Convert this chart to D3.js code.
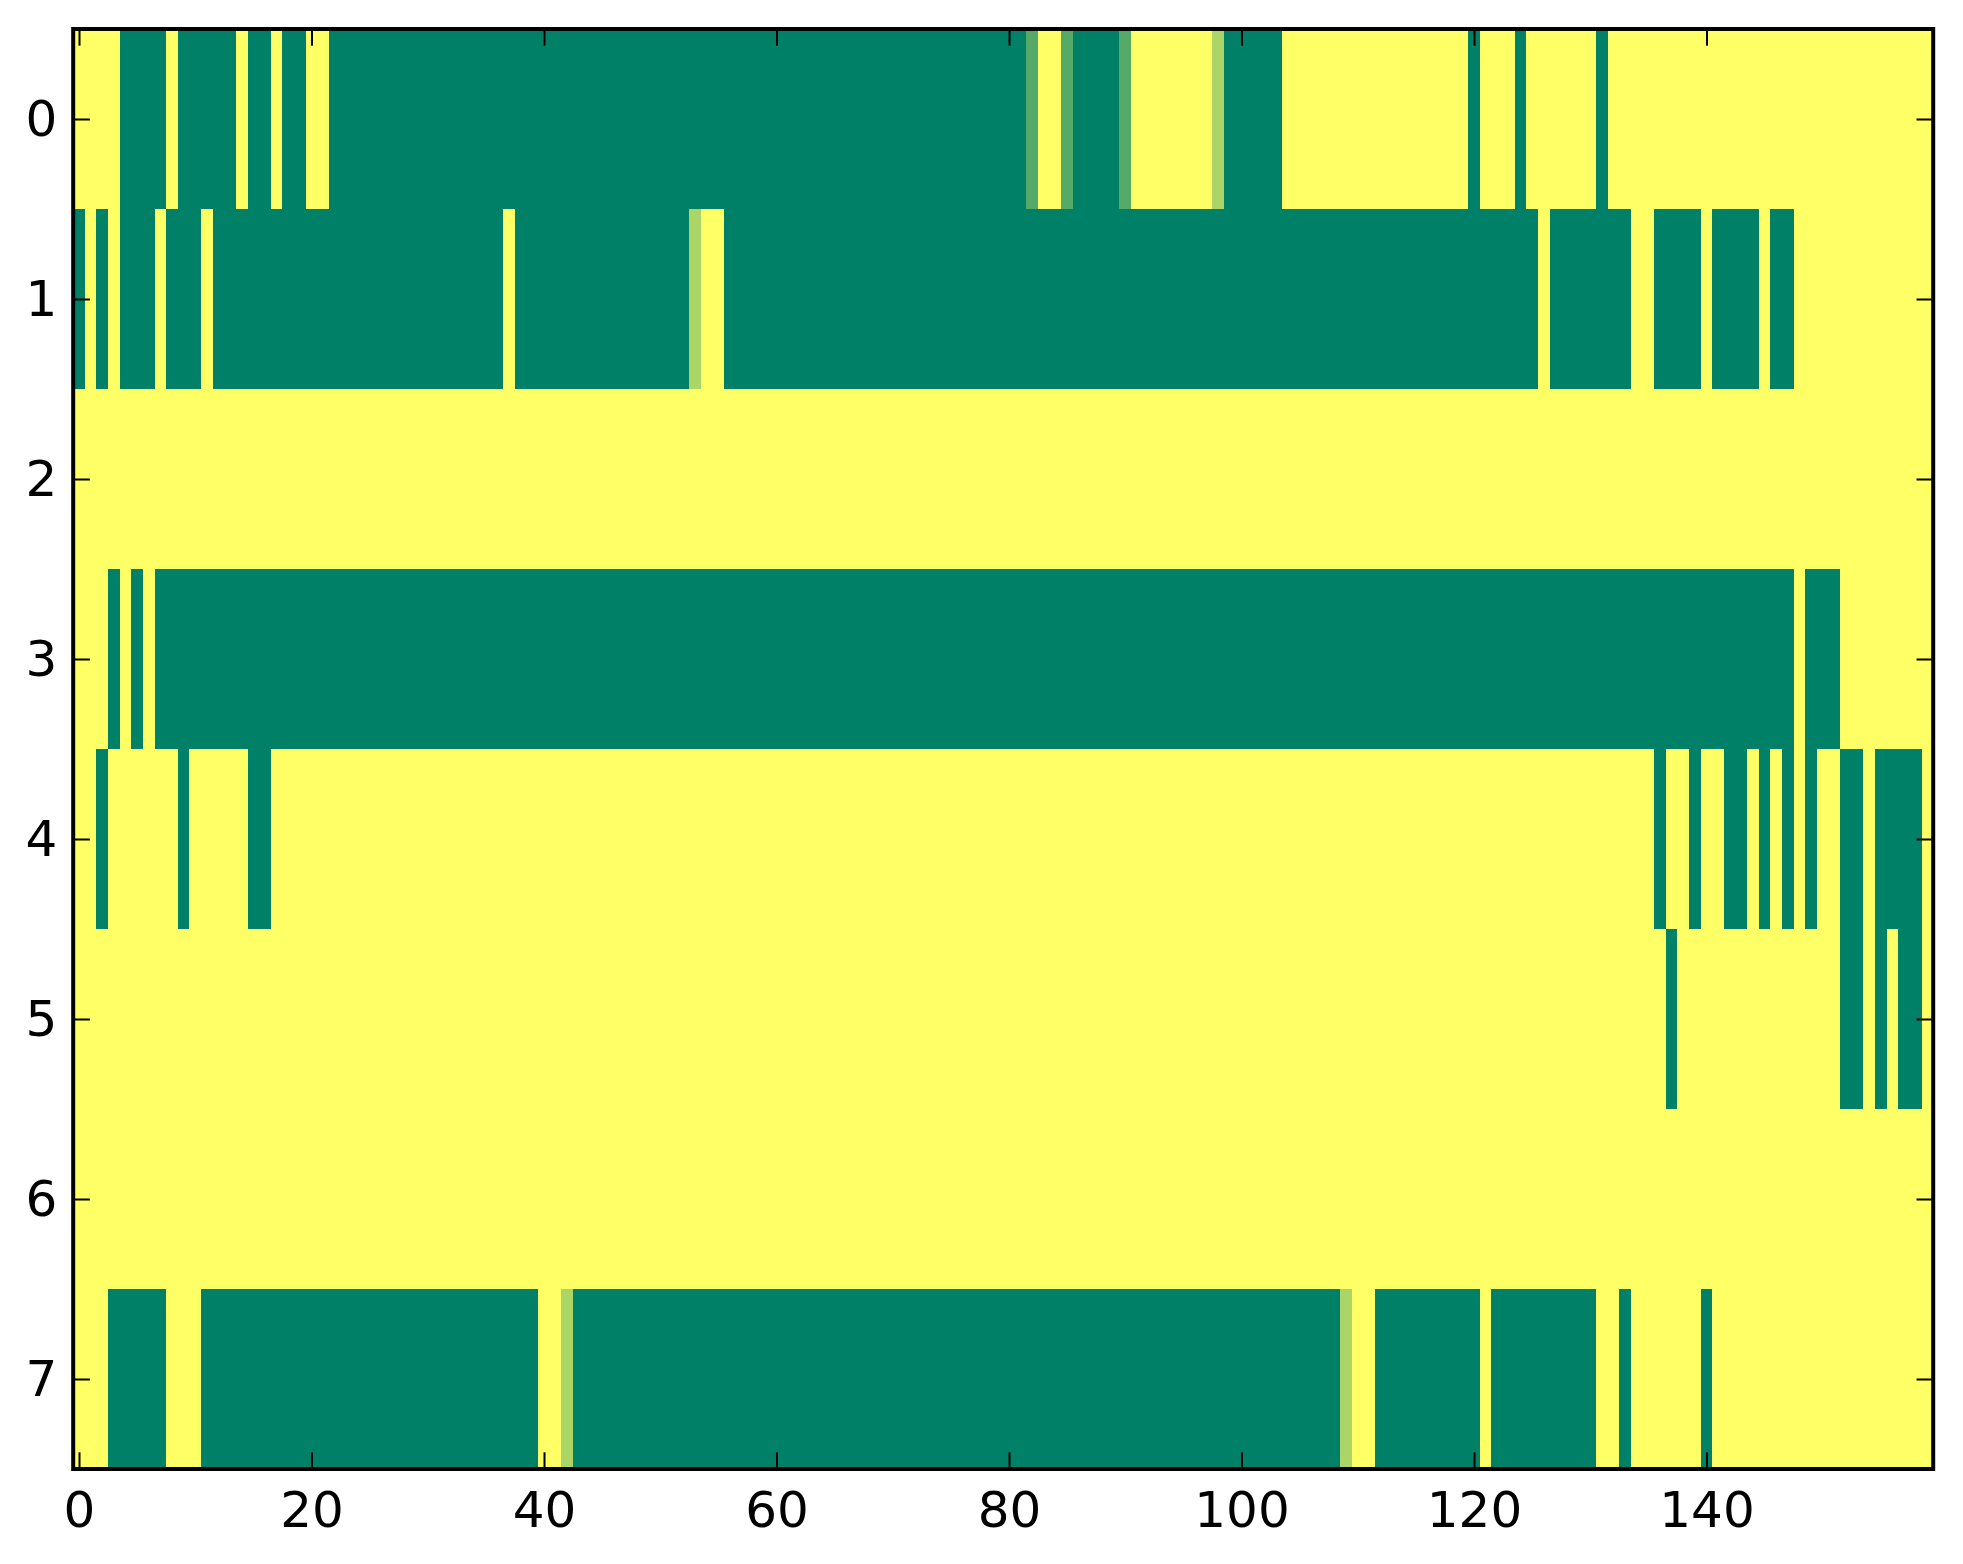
<!DOCTYPE html>
<html>
<head>
<meta charset="utf-8">
<script src="https://cdn.jsdelivr.net/npm/d3@7"></script>
<style>
  html, body { margin: 0; padding: 0; background: #ffffff; }
  svg { display: block; }
</style>
</head>
<body>
<div id="chart"></div>
<script>
// ---- data (value 0 = green, 1 = yellow, "summer" colour map) ----
const rowLabels = [0, 1, 2, 3, 4, 5, 6, 7];
const xTickValues = [0, 20, 40, 60, 80, 100, 120, 140];
const nCols = 160;

const row0 = [
  1,1,1,1,0,0,0,0,1,0,
  0,0,0,0,1,0,0,1,0,0,
  1,1,0,0,0,0,0,0,0,0,
  0,0,0,0,0,0,0,0,0,0,
  0,0,0,0,0,0,0,0,0,0,
  0,0,0,0,0,0,0,0,0,0,
  0,0,0,0,0,0,0,0,0,0,
  0,0,0,0,0,0,0,0,0,0,
  0,0,0.33,1,1,0.33,0,0,0,0,
  0.33,1,1,1,1,1,1,1,0.67,0,
  0,0,0,0,1,1,1,1,1,1,
  1,1,1,1,1,1,1,1,1,1,
  0,1,1,1,0,1,1,1,1,1,
  1,0,1,1,1,1,1,1,1,1,
  1,1,1,1,1,1,1,1,1,1,
  1,1,1,1,1,1,1,1,1,1
];
const row1 = [
  0,1,0,1,0,0,0,1,0,0,
  0,1,0,0,0,0,0,0,0,0,
  0,0,0,0,0,0,0,0,0,0,
  0,0,0,0,0,0,0,1,0,0,
  0,0,0,0,0,0,0,0,0,0,
  0,0,0,0.67,1,1,0,0,0,0,
  0,0,0,0,0,0,0,0,0,0,
  0,0,0,0,0,0,0,0,0,0,
  0,0,0,0,0,0,0,0,0,0,
  0,0,0,0,0,0,0,0,0,0,
  0,0,0,0,0,0,0,0,0,0,
  0,0,0,0,0,0,0,0,0,0,
  0,0,0,0,0,0,1,0,0,0,
  0,0,0,0,1,1,0,0,0,0,
  1,0,0,0,0,1,0,0,1,1,
  1,1,1,1,1,1,1,1,1,1
];
const row2 = [
  1,1,1,1,1,1,1,1,1,1,
  1,1,1,1,1,1,1,1,1,1,
  1,1,1,1,1,1,1,1,1,1,
  1,1,1,1,1,1,1,1,1,1,
  1,1,1,1,1,1,1,1,1,1,
  1,1,1,1,1,1,1,1,1,1,
  1,1,1,1,1,1,1,1,1,1,
  1,1,1,1,1,1,1,1,1,1,
  1,1,1,1,1,1,1,1,1,1,
  1,1,1,1,1,1,1,1,1,1,
  1,1,1,1,1,1,1,1,1,1,
  1,1,1,1,1,1,1,1,1,1,
  1,1,1,1,1,1,1,1,1,1,
  1,1,1,1,1,1,1,1,1,1,
  1,1,1,1,1,1,1,1,1,1,
  1,1,1,1,1,1,1,1,1,1
];
const row3 = [
  1,1,1,0,1,0,1,0,0,0,
  0,0,0,0,0,0,0,0,0,0,
  0,0,0,0,0,0,0,0,0,0,
  0,0,0,0,0,0,0,0,0,0,
  0,0,0,0,0,0,0,0,0,0,
  0,0,0,0,0,0,0,0,0,0,
  0,0,0,0,0,0,0,0,0,0,
  0,0,0,0,0,0,0,0,0,0,
  0,0,0,0,0,0,0,0,0,0,
  0,0,0,0,0,0,0,0,0,0,
  0,0,0,0,0,0,0,0,0,0,
  0,0,0,0,0,0,0,0,0,0,
  0,0,0,0,0,0,0,0,0,0,
  0,0,0,0,0,0,0,0,0,0,
  0,0,0,0,0,0,0,0,1,0,
  0,0,1,1,1,1,1,1,1,1
];
const row4 = [
  1,1,0,1,1,1,1,1,1,0,
  1,1,1,1,1,0,0,1,1,1,
  1,1,1,1,1,1,1,1,1,1,
  1,1,1,1,1,1,1,1,1,1,
  1,1,1,1,1,1,1,1,1,1,
  1,1,1,1,1,1,1,1,1,1,
  1,1,1,1,1,1,1,1,1,1,
  1,1,1,1,1,1,1,1,1,1,
  1,1,1,1,1,1,1,1,1,1,
  1,1,1,1,1,1,1,1,1,1,
  1,1,1,1,1,1,1,1,1,1,
  1,1,1,1,1,1,1,1,1,1,
  1,1,1,1,1,1,1,1,1,1,
  1,1,1,1,1,1,0,1,1,0,
  1,1,0,0,1,0,1,0,1,0,
  1,1,0,0,1,0,0,0,0,1
];
const row5 = [
  1,1,1,1,1,1,1,1,1,1,
  1,1,1,1,1,1,1,1,1,1,
  1,1,1,1,1,1,1,1,1,1,
  1,1,1,1,1,1,1,1,1,1,
  1,1,1,1,1,1,1,1,1,1,
  1,1,1,1,1,1,1,1,1,1,
  1,1,1,1,1,1,1,1,1,1,
  1,1,1,1,1,1,1,1,1,1,
  1,1,1,1,1,1,1,1,1,1,
  1,1,1,1,1,1,1,1,1,1,
  1,1,1,1,1,1,1,1,1,1,
  1,1,1,1,1,1,1,1,1,1,
  1,1,1,1,1,1,1,1,1,1,
  1,1,1,1,1,1,1,0,1,1,
  1,1,1,1,1,1,1,1,1,1,
  1,1,0,0,1,0,1,0,0,1
];
const row6 = [
  1,1,1,1,1,1,1,1,1,1,
  1,1,1,1,1,1,1,1,1,1,
  1,1,1,1,1,1,1,1,1,1,
  1,1,1,1,1,1,1,1,1,1,
  1,1,1,1,1,1,1,1,1,1,
  1,1,1,1,1,1,1,1,1,1,
  1,1,1,1,1,1,1,1,1,1,
  1,1,1,1,1,1,1,1,1,1,
  1,1,1,1,1,1,1,1,1,1,
  1,1,1,1,1,1,1,1,1,1,
  1,1,1,1,1,1,1,1,1,1,
  1,1,1,1,1,1,1,1,1,1,
  1,1,1,1,1,1,1,1,1,1,
  1,1,1,1,1,1,1,1,1,1,
  1,1,1,1,1,1,1,1,1,1,
  1,1,1,1,1,1,1,1,1,1
];
const row7 = [
  1,1,1,0,0,0,0,0,1,1,
  1,0,0,0,0,0,0,0,0,0,
  0,0,0,0,0,0,0,0,0,0,
  0,0,0,0,0,0,0,0,0,0,
  1,1,0.67,0,0,0,0,0,0,0,
  0,0,0,0,0,0,0,0,0,0,
  0,0,0,0,0,0,0,0,0,0,
  0,0,0,0,0,0,0,0,0,0,
  0,0,0,0,0,0,0,0,0,0,
  0,0,0,0,0,0,0,0,0,0,
  0,0,0,0,0,0,0,0,0,0.67,
  1,1,0,0,0,0,0,0,0,0,
  0,1,0,0,0,0,0,0,0,0,
  0,1,1,0,1,1,1,1,1,1,
  0,1,1,1,1,1,1,1,1,1,
  1,1,1,1,1,1,1,1,1,1
];
const rows = [row0, row1, row2, row3, row4, row5, row6, row7];

// ---- layout ----
const W = 1963, H = 1564;
const plotLeft = 73.2, plotRight = 1933.2, plotTop = 29, plotBottom = 1469;
const fontSize = 50;
const tickLen = 16.7;

const svg = d3.select("#chart").append("svg")
  .attr("width", W).attr("height", H)
  .style("font-family", "'DejaVu Sans', sans-serif");

const x = d3.scaleLinear().domain([-0.5, nCols - 0.5]).range([plotLeft, plotRight]);
const y = d3.scaleLinear().domain([-0.5, rowLabels.length - 0.5]).range([plotTop, plotBottom]);
const color = d3.scaleLinear().domain([0, 1]).range(["#008066", "#ffff66"]);

const cells = [];
rows.forEach((r, ri) => r.forEach((v, ci) => cells.push({ r: ri, c: ci, v })));

svg.append("g").selectAll("rect")
  .data(cells)
  .join("rect")
  .attr("x", d => x(d.c - 0.5))
  .attr("y", d => y(d.r - 0.5))
  .attr("width", d => x(d.c + 0.5) - x(d.c - 0.5) + 0.4)
  .attr("height", d => y(d.r + 0.5) - y(d.r - 0.5) + 0.4)
  .attr("fill", d => color(d.v))
  .attr("shape-rendering", "crispEdges");

// ---- axes (inward ticks on all four sides) ----
function styleAxis(g) {
  g.select(".domain").remove();
  g.selectAll(".tick line").attr("stroke", "#000").attr("stroke-width", 2);
  g.selectAll(".tick text").attr("fill", "#000").style("font-size", fontSize + "px")
    .style("font-family", "'DejaVu Sans', sans-serif");
}

svg.append("g")
  .attr("transform", `translate(0,${plotBottom})`)
  .call(d3.axisBottom(x).tickValues(xTickValues).tickSizeInner(-tickLen).tickSizeOuter(0).tickPadding(22))
  .call(styleAxis);

svg.append("g")
  .attr("transform", `translate(0,${plotTop})`)
  .call(d3.axisTop(x).tickValues(xTickValues).tickSizeInner(-tickLen).tickSizeOuter(0).tickFormat(""))
  .call(styleAxis);

svg.append("g")
  .attr("transform", `translate(${plotLeft},0)`)
  .call(d3.axisLeft(y).tickValues(rowLabels).tickSizeInner(-tickLen).tickSizeOuter(0).tickPadding(16))
  .call(styleAxis);

svg.append("g")
  .attr("transform", `translate(${plotRight},0)`)
  .call(d3.axisRight(y).tickValues(rowLabels).tickSizeInner(-tickLen).tickSizeOuter(0).tickFormat(""))
  .call(styleAxis);

// frame
svg.append("rect")
  .attr("x", plotLeft).attr("y", plotTop)
  .attr("width", plotRight - plotLeft).attr("height", plotBottom - plotTop)
  .attr("fill", "none").attr("stroke", "#000").attr("stroke-width", 4);
</script>
</body>
</html>
